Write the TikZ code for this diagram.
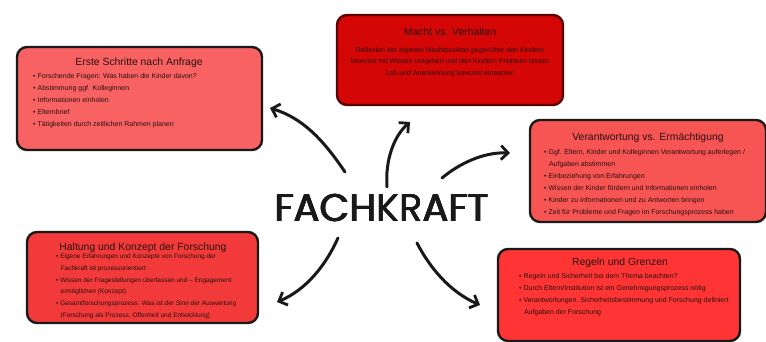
\documentclass[tikz,border=0pt]{standalone}
\usepackage{fontspec}
\setmainfont{Liberation Sans}
\newfontfamily\handfont{Poppins}
\newcommand{\heavyword}[1]{\rlap{\hspace{0.9pt}#1}\rlap{\raisebox{0.6pt}{#1}}\rlap{\hspace{0.9pt}\raisebox{0.6pt}{#1}}\rlap{\hspace{0.45pt}\raisebox{0.3pt}{#1}}#1}
\usetikzlibrary{arrows.meta}
\definecolor{cOne}{HTML}{F86262}
\definecolor{cTwo}{HTML}{D40606}
\definecolor{cTwoB}{HTML}{5A0000}
\definecolor{cThree}{HTML}{F75454}
\definecolor{cFour}{HTML}{F23A3A}
\definecolor{cFive}{HTML}{FF3535}
\definecolor{ink}{HTML}{2A1010}
\tikzset{
  card/.style={draw=black!90, line width=2.4pt, rounded corners=10pt, inner sep=0pt},
  cardtitle/.style={anchor=base, font=\fontsize{10.4}{12}\selectfont, text=ink, inner sep=0pt},
  cardbody/.style={anchor=north west, align=left, font=\fontsize{7}{12}\selectfont, text=ink, inner sep=0pt},
  cardbodyc/.style={anchor=north, align=center, font=\fontsize{7}{11.5}\selectfont, text=ink, inner sep=0pt},
  link/.style={line width=3pt, line cap=round, draw=black!90, -{Straight Barb[length=7pt,width=14pt,line width=2.8pt]}}
}
\begin{document}
\begin{tikzpicture}[x=1pt,y=-1pt]
\useasboundingbox (0,0) rectangle (766,342);
\fill[white] (0,0) rectangle (766,342);

% boxes
\node[card, fill=cOne, minimum width=245pt, minimum height=103pt] (b1) at (139.5,98.5) {};
\node[card, fill=cTwo, draw=cTwoB, minimum width=226pt, minimum height=90pt] (b2) at (450,60) {};
\node[card, fill=cThree, minimum width=236pt, minimum height=102pt] (b3) at (648,171) {};
\node[card, fill=cFour, minimum width=231pt, minimum height=91pt] (b4) at (142.5,277.5) {};
\node[card, fill=cFive, minimum width=242pt, minimum height=92pt] (b5) at (619,295) {};

% box 1
\node[cardtitle] (t1) at (139,66) {Erste Schritte nach Anfrage};
\node[cardbody] (x1) at (33,73.5) {%
\textbullet\ Forschende Fragen: Was haben die Kinder davon?\\
\textbullet\ Abstimmung ggf. Kolleginnen\\
\textbullet\ Informationen einholen\\
\textbullet\ Elternbrief\\
\textbullet\ Tätigkeiten durch zeitlichen Rahmen planen};

% box 2
\node[cardtitle] (t2) at (450,36) {Macht vs. Verhalten};
\node[cardbodyc] (x2) at (450,47) {%
Reflexion der eigenen Machtposition gegenüber den Kindern\\
bewusst mit Wissen umgehen und den Kindern Freiraum lassen\\
Lob und Anerkennung bewusst einsetzen};

% box 3
\node[cardtitle] (t3) at (648,140.5) {Verantwortung vs. Ermächtigung};
\node[cardbody] (x3) at (544,149.5) {%
\textbullet\ Ggf. Eltern, Kinder und Kolleginnen Verantwortung auferlegen /\\
\hspace*{1.3ex}Aufgaben abstimmen\\
\textbullet\ Einbeziehung von Erfahrungen\\
\textbullet\ Wissen der Kinder fördern und Informationen einholen\\
\textbullet\ Kinder zu Informationen und zu Antworten bringen\\
\textbullet\ Zeit für Probleme und Fragen im Forschungsprozess haben};

% box 4
\node[cardtitle] (t4) at (143,250) {Haltung und Konzept der Forschung};
\node[cardbody, font=\fontsize{6.5}{11.8}\selectfont] (x4) at (56,253.5) {%
\textbullet\ Eigene Erfahrungen und Konzepte von Forschung der\\
\hspace*{1.3ex}Fachkraft ist prozessorientiert\\
\textbullet\ Wissen der Fragestellungen überlassen und -- Engagement\\
\hspace*{1.3ex}ermöglichen (Konzept)\\
\textbullet\ Gesamtforschungsprozess: Was ist der Sinn der Auswertung\\
\hspace*{1.3ex}(Forschung als Prozess, Offenheit und Entwicklung)};

% box 5
\node[cardtitle] (t5) at (620,265.5) {Regeln und Grenzen};
\node[cardbody] (x5) at (519,273) {%
\textbullet\ Regeln und Sicherheit bei dem Thema beachten?\\
\textbullet\ Durch Eltern/Institution ist ein Genehmigungsprozess nötig\\
\textbullet\ Verantwortungen, Sicherheitsbestimmung und Forschung definiert\\
\hspace*{1.3ex}Aufgaben der Forschung};

% centre word
\node[font=\handfont\fontsize{38.5}{40}\selectfont, inner sep=0pt, text=black!90] (fk) at (381.5,208) {\heavyword{FACHKRAFT}};

% arrow end points
\coordinate (s1) at (345,172); \coordinate (e1) at (270,108);
\coordinate (s2) at (387,187); \coordinate (e2) at (410,122);
\coordinate (s3) at (442,178); \coordinate (e3) at (510,153);
\coordinate (s4) at (338,238); \coordinate (e4) at (277,302);
\coordinate (s5) at (417,243); \coordinate (e5) at (480,305);

\draw[link] (s1) .. controls (322,138) and (302,118) .. (e1);
\draw[link] (s2) .. controls (385,160) and (394,136) .. (e2);
\draw[link] (s3) .. controls (460,163) and (484,152) .. (e3);
\draw[link] (s4) .. controls (326,265) and (306,290) .. (e4);
\draw[link] (s5) .. controls (430,268) and (450,292) .. (e5);
\end{tikzpicture}
\end{document}
